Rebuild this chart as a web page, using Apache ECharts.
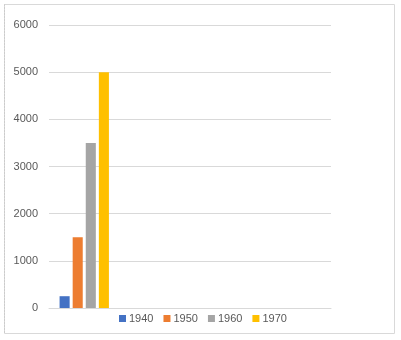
<!DOCTYPE html>
<html>
<head>
    <meta charset="UTF-8">
    <title>Bar chart 1940-1970</title>
    <script src="https://cdn.jsdelivr.net/npm/echarts@6/dist/echarts.min.js"></script>
    <style>
        html, body { margin: 0; padding: 0; background: #fff; }
        #chart { width: 401px; height: 340px; }
    </style>
</head>
<body>
    <div id="chart"></div>

    <script>
        // Data
        var categories = ['', '', '', ''];
        var seriesNames = ['1940', '1950', '1960', '1970'];
        var values1940 = [250, '-', '-', '-'];
        var values1950 = [1500, '-', '-', '-'];
        var values1960 = [3500, '-', '-', '-'];
        var values1970 = [5000, '-', '-', '-'];
        var colors = ['#4472C4', '#ED7D31', '#A5A5A5', '#FFC000'];

        var chart = echarts.init(document.getElementById('chart'));
        var allValues = [values1940, values1950, values1960, values1970];

        var series = seriesNames.map(function (name, i) {
            return {
                name: name,
                type: 'bar',
                data: allValues[i],
                barGap: '30%',
                barCategoryGap: '30%',
                itemStyle: { color: colors[i] }
            };
        });

        var option = {
            animation: false,
            color: colors,
            textStyle: { fontFamily: 'Liberation Sans, Arial, sans-serif' },
            graphic: [
                {
                    type: 'rect',
                    shape: { x: 4.5, y: 4.5, width: 390, height: 329 },
                    style: { fill: 'none', stroke: '#d9d9d9', lineWidth: 1 },
                    silent: true
                },
                {
                    type: 'line',
                    shape: { x1: 4.5, y1: 4.5, x2: 4.5, y2: 333.5 },
                    style: { stroke: '#bfbfbf', lineWidth: 1, lineDash: [1, 2] },
                    silent: true
                }
            ],
            legend: {
                left: 114,
                top: 308,
                itemWidth: 7,
                itemHeight: 7,
                itemGap: 10,
                icon: 'rect',
                textStyle: { color: '#595959', fontSize: 11, padding: [0, 0, 0, -2] },
                data: seriesNames
            },
            grid: {
                left: 49,
                right: 70,
                top: 25,
                bottom: 32
            },
            xAxis: {
                type: 'category',
                data: categories,
                axisLine: { lineStyle: { color: '#d9d9d9' } },
                axisTick: { show: false },
                axisLabel: { show: false }
            },
            yAxis: {
                type: 'value',
                min: 0,
                max: 6000,
                interval: 1000,
                axisLine: { show: false },
                axisTick: { show: false },
                axisLabel: {
                    color: '#595959',
                    fontSize: 11,
                    margin: 11,
                    formatter: function (v) { return String(v); }
                },
                splitLine: { lineStyle: { color: '#d9d9d9' } }
            },
            series: series
        };

        chart.setOption(option);
    </script>
</body>
</html>
